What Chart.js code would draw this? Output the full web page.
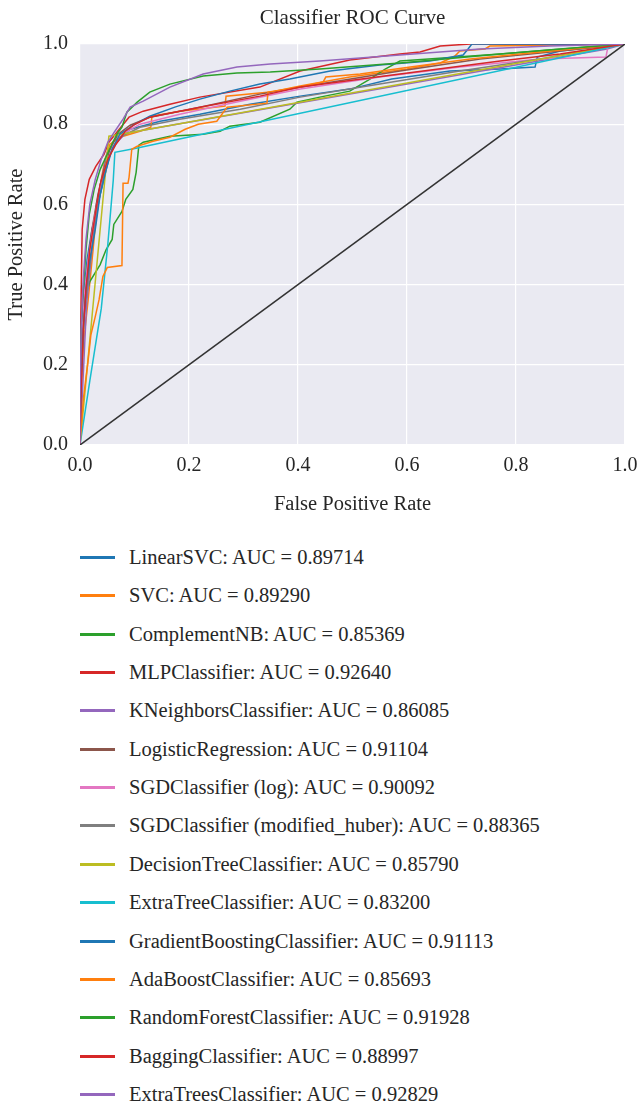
<!DOCTYPE html>
<html>
<head>
<meta charset="utf-8">
<script src="https://cdn.jsdelivr.net/npm/chart.js@4"></script>
<style>
  body { margin: 0; background: #fff; font-family: "Liberation Serif", serif; }
  #wrap { position: relative; width: 639px; height: 1102px; overflow: hidden; }
  #roc { position: absolute; left: 0; top: 0; }
  .row { position: absolute; left: 0; height: 40px; display: flex; align-items: center; color: #262626; font-size: 20.5px; white-space: nowrap; }
  .swatch { width: 35px; height: 3px; margin-left: 80px; margin-right: 14px; }
</style>
</head>
<body>
<div id="wrap">
  <canvas id="roc" width="639" height="525"></canvas>
  <div id="legend"></div>
</div>
<script>
// === Data ===
const names = ["LinearSVC", "SVC", "ComplementNB", "MLPClassifier", "KNeighborsClassifier",
  "LogisticRegression", "SGDClassifier (log)", "SGDClassifier (modified_huber)",
  "DecisionTreeClassifier", "ExtraTreeClassifier", "GradientBoostingClassifier",
  "AdaBoostClassifier", "RandomForestClassifier", "BaggingClassifier", "ExtraTreesClassifier"];
const aucs = [0.89714, 0.89290, 0.85369, 0.92640, 0.86085, 0.91104, 0.90092, 0.88365,
  0.85790, 0.83200, 0.91113, 0.85693, 0.91928, 0.88997, 0.92829];
const colors = ["#1f77b4", "#ff7f0e", "#2ca02c", "#d62728", "#9467bd", "#8c564b", "#e377c2",
  "#7f7f7f", "#bcbd22", "#17becf", "#1f77b4", "#ff7f0e", "#2ca02c", "#d62728", "#9467bd"];
const axisTicks = [0, 0.2, 0.4, 0.6, 0.8, 1.0];

const fprLinearSVC = [0, 0.002, 0.006, 0.013, 0.022, 0.035, 0.046, 0.055, 0.070, 0.092, 0.147, 0.220, 0.312, 0.404, 0.495, 0.572, 0.679, 0.771, 0.835, 0.839, 0.881, 1];
const tprLinearSVC = [0, 0.2125, 0.3625, 0.4625, 0.5375, 0.6125, 0.675, 0.725, 0.7625, 0.7875, 0.8075, 0.825, 0.85, 0.87, 0.8875, 0.9125, 0.9325, 0.9375, 0.9425, 0.9675, 0.9825, 1];

const fprSVC = [0, 0.002, 0.007, 0.015, 0.024, 0.031, 0.039, 0.046, 0.055, 0.073, 0.110, 0.130, 0.132, 0.183, 0.266, 0.268, 0.349, 0.404, 0.495, 0.600, 0.661, 0.688, 0.697, 0.743, 0.752, 1];
const tprSVC = [0, 0.1125, 0.2625, 0.3625, 0.4875, 0.5875, 0.6625, 0.7125, 0.75, 0.7675, 0.7825, 0.7925, 0.82, 0.8325, 0.845, 0.87, 0.88, 0.895, 0.9175, 0.9375, 0.9525, 0.97, 0.9825, 0.9875, 0.995, 1];

const fprComplementNB = [0, 0, 0.006, 0.009, 0.018, 0.037, 0.048, 0.059, 0.062, 0.077, 0.084, 0.097, 0.103, 0.106, 0.108, 0.116, 0.165, 0.226, 0.257, 0.275, 0.330, 0.385, 0.398, 0.440, 0.495, 0.532, 0.560, 0.587, 0.771, 1];
const tprComplementNB = [0, 0.1125, 0.2875, 0.3625, 0.4075, 0.45, 0.4875, 0.5125, 0.55, 0.5825, 0.6125, 0.6375, 0.68, 0.72, 0.7475, 0.755, 0.77, 0.775, 0.7825, 0.795, 0.805, 0.8375, 0.855, 0.8675, 0.8825, 0.9125, 0.9375, 0.9575, 0.975, 1];

const fprMLP = [0, 0, 0.002, 0.004, 0.009, 0.017, 0.029, 0.044, 0.053, 0.072, 0.090, 0.116, 0.165, 0.220, 0.330, 0.404, 0.495, 0.587, 0.624, 0.661, 0.716, 1];
const tprMLP = [0, 0.1625, 0.3625, 0.5375, 0.6125, 0.6625, 0.695, 0.725, 0.755, 0.7875, 0.8175, 0.8325, 0.85, 0.8675, 0.8925, 0.9325, 0.96, 0.975, 0.98, 0.995, 1, 1];

const fprKNN = [0, 0.012, 0.030, 0.050, 0.084, 0.967, 1];
const tprKNN = [0, 0.35, 0.60, 0.73, 0.7775, 0.9875, 1];

const fprLogReg = [0, 0.002, 0.006, 0.013, 0.022, 0.033, 0.044, 0.055, 0.070, 0.092, 0.128, 0.220, 0.330, 0.440, 0.587, 0.734, 0.881, 1];
const tprLogReg = [0, 0.1875, 0.3125, 0.4375, 0.5375, 0.625, 0.6875, 0.7375, 0.775, 0.7975, 0.8175, 0.8425, 0.875, 0.90, 0.9325, 0.9625, 0.9825, 1];

const fprSgdLog = [0, 0.002, 0.007, 0.015, 0.026, 0.037, 0.048, 0.061, 0.077, 0.110, 0.183, 0.294, 0.404, 0.550, 0.697, 0.844, 0.965, 0.969, 1];
const tprSgdLog = [0, 0.2125, 0.3625, 0.4625, 0.5625, 0.6375, 0.70, 0.745, 0.775, 0.80, 0.825, 0.8575, 0.8875, 0.9175, 0.9425, 0.9625, 0.9675, 0.995, 1];

const fprSgdHuber = [0, 0.002, 0.007, 0.015, 0.024, 0.035, 0.046, 0.059, 0.073, 0.110, 0.183, 0.294, 0.404, 0.550, 0.697, 0.844, 1];
const tprSgdHuber = [0, 0.1875, 0.3125, 0.4125, 0.5125, 0.6125, 0.6875, 0.7375, 0.7675, 0.7925, 0.8125, 0.8375, 0.8675, 0.90, 0.9325, 0.9625, 1];

const fprDecisionTree = [0, 0.053, 0.075, 1];
const tprDecisionTree = [0, 0.77, 0.775, 1];

const fprExtraTree = [0, 0.018, 0.039, 0.051, 0.061, 0.064, 0.103, 1];
const tprExtraTree = [0, 0.16, 0.34, 0.50, 0.66, 0.73, 0.74, 1];

const fprGradBoost = [0, 0.002, 0.006, 0.011, 0.018, 0.028, 0.037, 0.048, 0.059, 0.073, 0.101, 0.128, 0.174, 0.220, 0.275, 0.330, 0.385, 0.459, 0.550, 0.642, 0.703, 0.712, 0.719, 1];
const tprGradBoost = [0, 0.1625, 0.2875, 0.3875, 0.4625, 0.5375, 0.625, 0.6875, 0.7375, 0.775, 0.80, 0.82, 0.8425, 0.8625, 0.8825, 0.90, 0.9125, 0.9325, 0.9475, 0.9575, 0.9725, 0.9875, 1, 1];

const fprAdaBoost = [0, 0.006, 0.015, 0.020, 0.028, 0.035, 0.042, 0.050, 0.077, 0.079, 0.088, 0.090, 0.095, 0.105, 0.134, 0.165, 0.193, 0.217, 0.251, 0.270, 0.343, 0.345, 0.404, 0.446, 0.451, 0.514, 0.606, 0.716, 0.807, 1];
const tprAdaBoost = [0, 0.1125, 0.2125, 0.275, 0.32, 0.3625, 0.42, 0.4425, 0.4475, 0.6525, 0.6525, 0.6675, 0.7375, 0.745, 0.7575, 0.7675, 0.7875, 0.80, 0.8075, 0.8425, 0.8525, 0.88, 0.8925, 0.905, 0.9175, 0.925, 0.9425, 0.9625, 0.975, 1];

const fprRandomForest = [0, 0, 0.002, 0.006, 0.011, 0.017, 0.026, 0.037, 0.050, 0.061, 0.070, 0.077, 0.086, 0.105, 0.128, 0.165, 0.226, 0.288, 0.349, 0.440, 0.587, 0.771, 0.881, 1];
const tprRandomForest = [0, 0.1625, 0.2875, 0.3875, 0.4875, 0.575, 0.6375, 0.6875, 0.725, 0.7575, 0.78, 0.7925, 0.83, 0.855, 0.88, 0.90, 0.92, 0.9275, 0.93, 0.9375, 0.9525, 0.975, 0.9875, 1];

const fprBagging = [0, 0.002, 0.006, 0.011, 0.018, 0.028, 0.037, 0.051, 0.066, 0.083, 0.101, 0.128, 0.220, 0.330, 0.404, 0.587, 0.771, 0.881, 1];
const tprBagging = [0, 0.1375, 0.2875, 0.3875, 0.4875, 0.575, 0.65, 0.7125, 0.75, 0.7825, 0.80, 0.8175, 0.8425, 0.87, 0.8925, 0.925, 0.9575, 0.975, 1];

const fprExtraTrees = [0, 0, 0.002, 0.006, 0.011, 0.018, 0.028, 0.039, 0.051, 0.064, 0.079, 0.092, 0.116, 0.165, 0.226, 0.288, 0.349, 0.440, 0.587, 0.734, 0.862, 1];
const tprExtraTrees = [0, 0.1125, 0.2875, 0.4125, 0.5125, 0.60, 0.6625, 0.7125, 0.755, 0.7825, 0.8125, 0.8425, 0.8575, 0.8925, 0.925, 0.9425, 0.95, 0.9575, 0.9725, 0.9875, 0.995, 1];

const chanceFpr = [0, 1];
const chanceTpr = [0, 1];

const curves = [
  [fprLinearSVC, tprLinearSVC], [fprSVC, tprSVC], [fprComplementNB, tprComplementNB],
  [fprMLP, tprMLP], [fprKNN, tprKNN], [fprLogReg, tprLogReg], [fprSgdLog, tprSgdLog],
  [fprSgdHuber, tprSgdHuber], [fprDecisionTree, tprDecisionTree], [fprExtraTree, tprExtraTree],
  [fprGradBoost, tprGradBoost], [fprAdaBoost, tprAdaBoost], [fprRandomForest, tprRandomForest],
  [fprBagging, tprBagging], [fprExtraTrees, tprExtraTrees]
];

const FONT = "'Liberation Serif', 'Times New Roman', serif";
const FS = 20;
const toPoints = (xs, ys) => xs.map((x, i) => ({ x: x, y: ys[i] }));

// later classifiers sit on top, like matplotlib
const datasets = curves.map(([fpr, tpr], i) => ({
  label: names[i] + ": AUC = " + aucs[i].toFixed(5),
  data: toPoints(fpr, tpr),
  borderColor: colors[i],
  borderWidth: 1.5,
  order: curves.length - i + 1,
}));
datasets.push({
  label: "chance",
  data: toPoints(chanceFpr, chanceTpr),
  borderColor: "#333333",
  borderWidth: 1.5,
  order: 0,
});

// === Seaborn-like grey plot background ===
const plotBg = {
  id: "plotBg",
  beforeDraw(chart) {
    const { ctx, chartArea: a } = chart;
    ctx.save();
    ctx.fillStyle = "#eaeaf2";
    ctx.fillRect(a.left, a.top, a.right - a.left, a.bottom - a.top);
    ctx.restore();
  }
};

const tickStyle = { color: "#262626", font: { family: FONT, size: FS } };

new Chart(document.getElementById("roc"), {
  type: "scatter",
  data: { datasets: datasets },
  options: {
    responsive: false,
    devicePixelRatio: 1,
    animation: false,
    showLine: true,
    elements: { point: { radius: 0, hoverRadius: 0 }, line: { tension: 0 } },
    layout: { padding: { left: 0, right: 14, top: 0, bottom: 0 } },
    plugins: {
      legend: { display: false },
      tooltip: { enabled: false },
      title: {
        display: true,
        text: "Classifier ROC Curve",
        fullSize: false,
        color: "#262626",
        font: { family: FONT, size: 21, weight: "normal" },
        padding: { top: 5.5, bottom: 13.3 },
      },
    },
    scales: {
      x: {
        type: "linear", min: 0, max: 1,
        afterBuildTicks: (s) => { s.ticks = axisTicks.map(v => ({ value: v })); },
        afterFit: (s) => { s.height = 80; s.paddingLeft = 0; s.paddingRight = 0; },
        ticks: { ...tickStyle, padding: 9, maxRotation: 0, callback: (v) => v.toFixed(1) },
        grid: { color: "#ffffff", lineWidth: 1.2, drawTicks: false },
        border: { display: false },
        title: { display: true, text: "False Positive Rate", color: "#262626",
          font: { family: FONT, size: 20.5 }, padding: { top: 0, bottom: 7.7 } },
      },
      y: {
        type: "linear", min: 0, max: 1,
        afterBuildTicks: (s) => { s.ticks = axisTicks.map(v => ({ value: v })); },
        afterFit: (s) => { s.width = 80; },
        ticks: { ...tickStyle, padding: 12, callback: (v) => v.toFixed(1) },
        grid: { color: "#ffffff", lineWidth: 1.2, drawTicks: false },
        border: { display: false },
        title: { display: true, text: "True Positive Rate", color: "#262626",
          font: { family: FONT, size: 20.5 }, padding: { top: 4.7, bottom: 0 } },
      },
    },
  },
  plugins: [plotBg],
});

// === Legend, one entry per line under the plot ===
const legendBox = document.getElementById("legend");
const legendStep = 38.35;
names.forEach((name, i) => {
  const row = document.createElement("div");
  row.className = "row";
  row.style.top = (Math.round(557 + i * legendStep) - 20) + "px";
  row.innerHTML = `<span class="swatch" style="background:${colors[i]}"></span><span>${name}: AUC = ${aucs[i].toFixed(5)}</span>`;
  legendBox.appendChild(row);
});
</script>
</body>
</html>
